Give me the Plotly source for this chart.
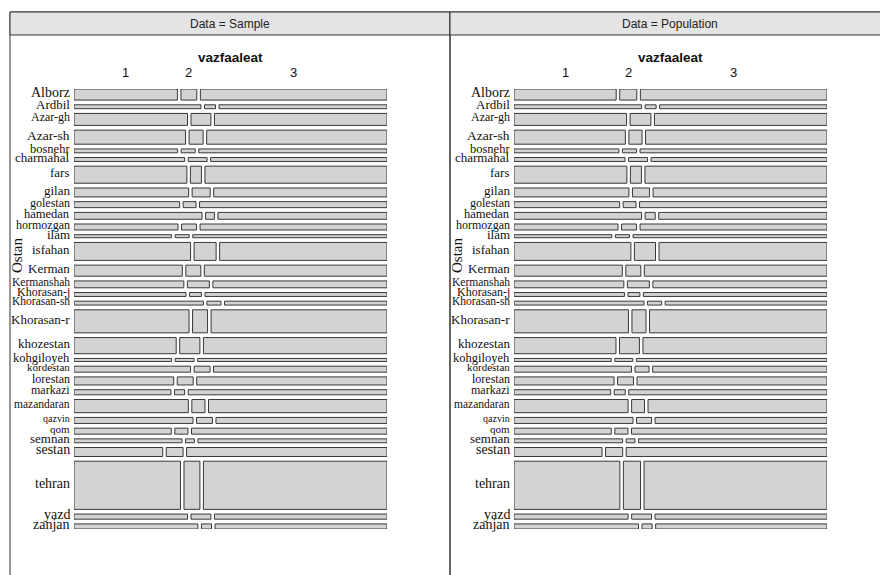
import plotly.graph_objects as go

# ---------------- data ----------------
ostan = ["Alborz", "Ardbil", "Azar-gh", "Azar-sh", "boshehr", "charmahal", "fars", "gilan",
         "golestan", "hamedan", "hormozgan", "ilam", "isfahan", "Kerman", "Kermanshah",
         "Khorasan-j", "Khorasan-sh", "Khorasan-r", "khozestan", "kohgiloyeh", "kordestan",
         "lorestan", "markazi", "mazandaran", "qazvin", "qom", "semnan", "sestan", "tehran",
         "yazd", "zanjan"]
ostan_label = ["Alborz", "Ardbil", "Azar-gh", "Azar-sh", "bosnehr", "charmahal", "fars", "gilan",
               "golestan", "hamedan", "hormozgan", "ilam", "isfahan", "Kerman", "Kermanshah",
               "Khorasan-j", "Khorasan-sh", "Khorasan-r", "khozestan", "kohgiloyeh", "kordestan",
               "lorestan", "markazi", "mazandaran", "qazvin", "qom", "semnan", "sestan", "tehran",
               "yazd", "zanjan"]
vazfaaleat = ["1", "2", "3"]

# share of each ostan (%), same in sample and population
ostan_share = [3.7, 1.3, 4.0, 4.7, 1.3, 1.3, 5.7, 3.0, 2.0, 2.3, 2.0, 1.0, 6.0, 3.7, 2.3,
               1.3, 1.3, 7.7, 5.4, 1.0, 2.0, 2.7, 1.7, 4.4, 2.0, 2.0, 1.3, 3.0, 16.1, 1.7, 1.7]

# % in vazfaaleat 1 / 2 / 3 per ostan
sample_v1 = [33.8, 41.5, 37.1, 36.5, 33.9, 36.2, 36.9, 37.5, 34.5, 41.8, 34.0, 31.9, 38.1, 35.4, 35.9,
             36.6, 42.3, 37.6, 33.4, 31.9, 38.1, 32.6, 31.7, 37.4, 38.9, 31.8, 35.3, 29.0, 34.8, 37.1, 40.5]
sample_v2 = [5.2, 3.6, 6.5, 4.6, 4.6, 6.2, 3.6, 5.9, 4.2, 2.9, 4.9, 4.6, 7.2, 4.9, 7.2,
             3.9, 4.6, 4.9, 6.6, 6.2, 5.2, 5.2, 3.3, 4.3, 5.2, 4.3, 2.9, 5.5, 5.2, 6.5, 3.3]
sample_v3 = [61.0, 54.9, 56.4, 59.0, 61.6, 57.7, 59.5, 56.7, 61.2, 55.2, 61.1, 63.5, 54.7, 59.7, 56.9,
             59.5, 53.1, 57.5, 60.0, 61.9, 56.7, 62.2, 65.0, 58.4, 55.9, 63.9, 61.8, 65.5, 60.0, 56.4, 56.2]

population_v1 = [33.4, 41.7, 36.8, 36.4, 34.3, 36.3, 36.9, 37.6, 34.5, 41.7, 34.0, 32.0, 38.2, 35.4, 35.9,
                 36.1, 42.5, 37.4, 33.3, 31.8, 38.4, 32.7, 31.6, 37.3, 38.9, 31.8, 35.5, 28.8, 34.6, 37.3, 40.7]
population_v2 = [5.6, 3.6, 6.8, 4.3, 4.6, 6.2, 3.6, 5.6, 4.2, 3.3, 4.9, 4.6, 6.9, 4.9, 7.2,
                 3.9, 4.6, 4.6, 6.5, 5.9, 4.6, 5.2, 3.6, 4.2, 4.9, 4.3, 2.9, 5.6, 5.6, 6.5, 3.3]
population_v3 = [61.0, 54.7, 56.4, 59.3, 61.1, 57.5, 59.5, 56.9, 61.2, 55.0, 61.1, 63.4, 54.9, 59.7, 56.9,
                 60.0, 52.9, 58.0, 60.1, 62.3, 57.0, 62.1, 64.8, 58.5, 56.2, 63.9, 61.6, 65.7, 59.8, 56.2, 56.0]

panels = [("Data = Sample", sample_v1, sample_v2, sample_v3),
          ("Data = Population", population_v1, population_v2, population_v3)]

# ---------------- style ----------------
W, H = 880, 575
label_font_size = {"Alborz": 14, "Ardbil": 13, "Azar-gh": 12, "Azar-sh": 13.5, "bosnehr": 12.5,
                   "charmahal": 13, "fars": 13, "gilan": 13, "golestan": 12, "hamedan": 12.5,
                   "hormozgan": 12, "ilam": 13, "isfahan": 13, "Kerman": 13, "Kermanshah": 11.5,
                   "Khorasan-j": 12, "Khorasan-sh": 11.5, "Khorasan-r": 13, "khozestan": 13,
                   "kohgiloyeh": 12.5, "kordestan": 11, "lorestan": 12, "markazi": 12,
                   "mazandaran": 11.5, "qazvin": 10, "qom": 11, "semnan": 13, "sestan": 14,
                   "tehran": 14, "yazd": 14, "zanjan": 14}
SERIF = "Liberation Serif, Times New Roman, serif"
SANS = "Liberation Sans Narrow, Arial Narrow, Liberation Sans, Arial, sans-serif"
TILE_FILL = "#d3d3d3"
TILE_LINE = "#383838"
FRAME = "#333333"

gx = 0.0115   # horizontal gap (fraction of tile width)
gy = 0.0159   # vertical gap (fraction of tile height)
n = len(ostan)

def px(p):
    return p / W

def py(p):
    return 1 - p / H

panel_left = [10, 450]       # frame left edges (px)
tile_left = [74, 514]        # tile area left edges
tile_w = 313

fig = go.Figure()
shapes = []
annotations = []
total_share = sum(ostan_share)

for k, (title, v1, v2, v3) in enumerate(panels):
    xa = "x" if k == 0 else "x2"
    ya = "y" if k == 0 else "y2"
    # frame + strip
    shapes.append(dict(type="rect", xref="paper", yref="paper",
                       x0=px(panel_left[k]), x1=px(panel_left[k] + 440), y0=py(12), y1=py(620),
                       line=dict(color=FRAME, width=1), fillcolor="rgba(0,0,0,0)", layer="below"))
    shapes.append(dict(type="rect", xref="paper", yref="paper",
                       x0=px(panel_left[k]), x1=px(panel_left[k] + 440), y0=py(35), y1=py(12),
                       line=dict(color=FRAME, width=1), fillcolor="#e4e4e4", layer="below"))
    annotations.append(dict(text=title, xref="paper", yref="paper",
                            x=px(panel_left[k] + 220), y=py(24), showarrow=False,
                            xanchor="center", yanchor="middle",
                            font=dict(family=SANS, size=12, color="#222")))
    annotations.append(dict(text="<b>vazfaaleat</b>", xref="paper", yref="paper",
                            x=px(tile_left[k] + tile_w / 2), y=py(57), showarrow=False,
                            xanchor="center", yanchor="middle",
                            font=dict(family=SANS, size=13.5, color="#111")))
    annotations.append(dict(text="Ostan", xref="paper", yref="paper",
                            x=px(panel_left[k] + 7), y=py(256), showarrow=False, textangle=-90,
                            xanchor="center", yanchor="middle",
                            font=dict(family=SERIF, size=15, color="#111")))
    y0 = 0.0
    for i in range(n):
        h = ostan_share[i] / total_share
        vals = [v1[i], v2[i], v3[i]]
        s = sum(vals)
        x0 = 0.0
        for j, v in enumerate(vals):
            w = v / s
            shapes.append(dict(type="rect", xref=xa, yref=ya, x0=x0, x1=x0 + w, y0=y0, y1=y0 + h,
                               line=dict(color=TILE_LINE, width=1), fillcolor=TILE_FILL))
            if i == 0:
                annotations.append(dict(text=vazfaaleat[j], xref=xa, yref="paper",
                                        x=x0 + w / 2, y=py(73), showarrow=False,
                                        xanchor="center", yanchor="middle",
                                        font=dict(family=SANS, size=13, color="#111")))
            x0 += w + gx
        lab = ostan_label[i]
        annotations.append(dict(text=lab, xref=xa + " domain", yref=ya,
                                x=-0.005, y=y0 + h / 2, yshift=2, showarrow=False,
                                xanchor="right", yanchor="middle",
                                font=dict(family=SERIF, size=label_font_size[lab], color="#111")))
        y0 += h + gy

yr = [1 + (n - 1) * gy, 0]
xr = [0, 1 + 2 * gx]
ydom = [py(529), py(89)]
fig.update_layout(
    width=W, height=H, margin=dict(l=0, r=0, t=0, b=0),
    paper_bgcolor="white", plot_bgcolor="rgba(0,0,0,0)",
    showlegend=False,
    xaxis=dict(domain=[px(74), px(74 + tile_w)], range=xr, visible=False, fixedrange=True),
    yaxis=dict(domain=ydom, range=yr, visible=False, fixedrange=True),
    xaxis2=dict(domain=[px(514), px(514 + tile_w)], range=xr, visible=False, fixedrange=True, anchor="y2"),
    yaxis2=dict(domain=ydom, range=yr, visible=False, fixedrange=True, anchor="x2"),
    shapes=shapes, annotations=annotations,
)
# invisible traces to instantiate the axes
fig.add_trace(go.Scatter(x=[0], y=[0], xaxis="x", yaxis="y", mode="markers",
                         marker=dict(opacity=0), hoverinfo="skip"))
fig.add_trace(go.Scatter(x=[0], y=[0], xaxis="x2", yaxis="y2", mode="markers",
                         marker=dict(opacity=0), hoverinfo="skip"))

fig.write_html("out.html")
